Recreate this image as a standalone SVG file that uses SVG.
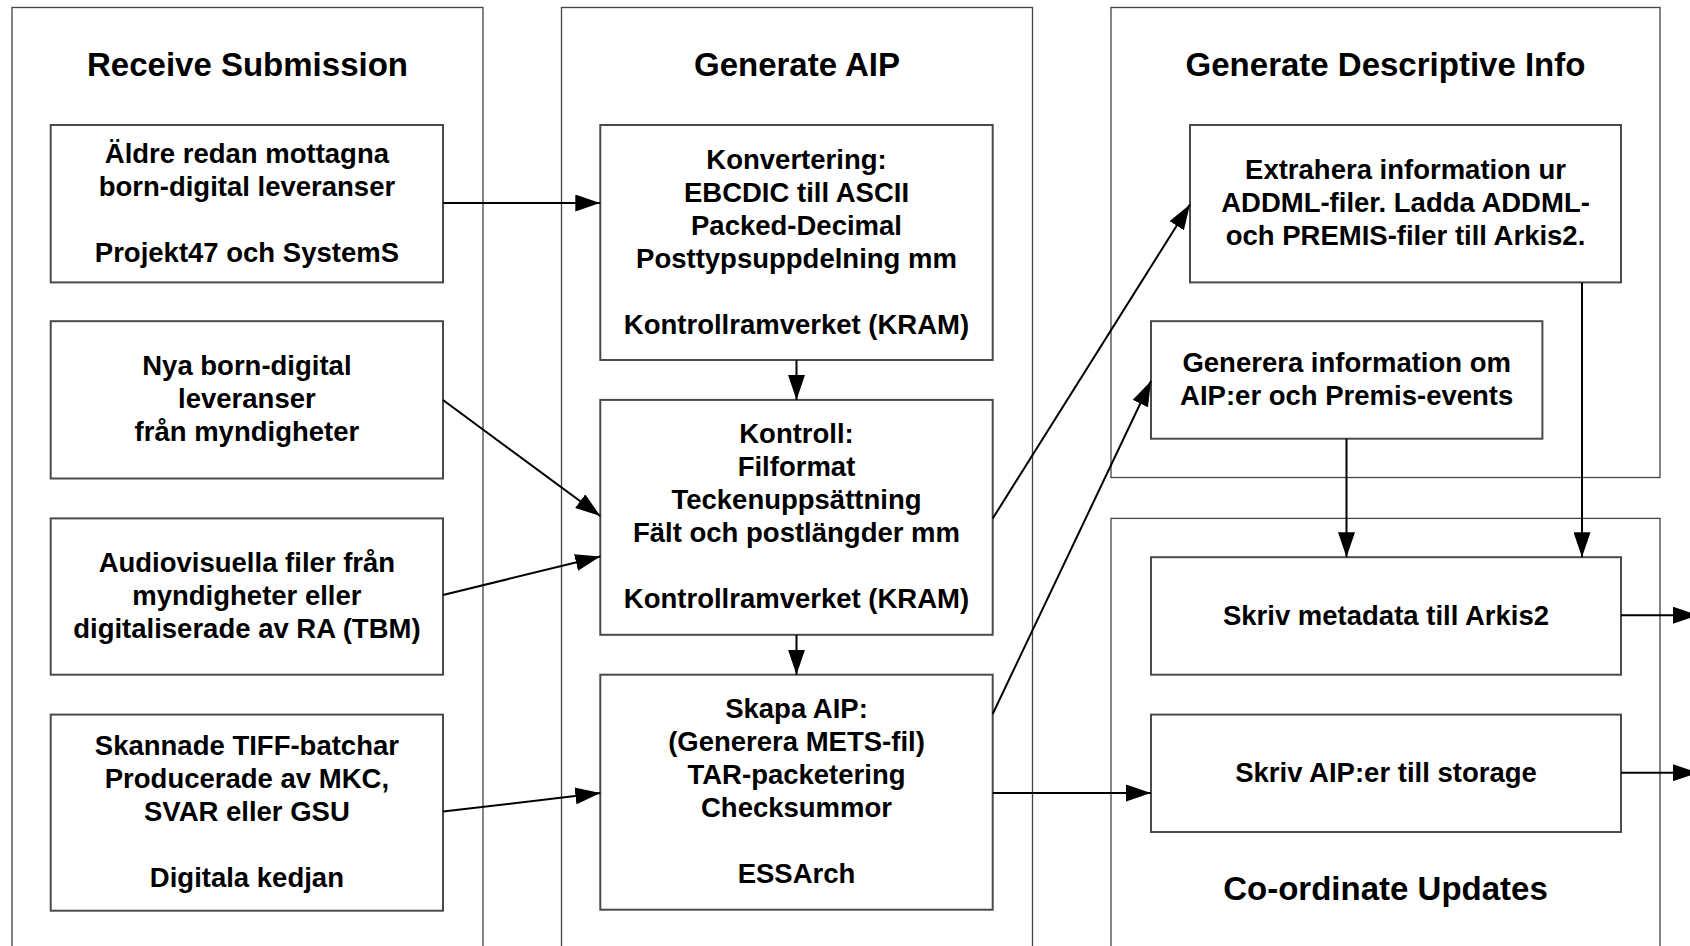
<svg xmlns="http://www.w3.org/2000/svg" width="1690" height="946" viewBox="0 0 1690 946">
<style>
.lane{fill:#fff;stroke:#444;stroke-width:1.3}
.box{fill:#fff;stroke:#4a4a4a;stroke-width:2}
.ttl{font-family:"Liberation Sans",Arial,sans-serif;font-weight:bold;font-size:33px;fill:#000;text-anchor:middle}
.t{font-family:"Liberation Sans",Arial,sans-serif;font-weight:bold;font-size:27.5px;fill:#000;text-anchor:middle}
.c{fill:none;stroke:#000;stroke-width:2}
</style>
<defs>
<marker id="ah" markerUnits="userSpaceOnUse" markerWidth="25" markerHeight="17" refX="25" refY="8.5" orient="auto">
<path d="M0,0 L25,8.5 L0,17 z" fill="#000"/>
</marker>
</defs>
<rect width="1690" height="946" fill="#fff"/>
<g id="lane-receive">
<rect class="lane" x="12" y="7.5" width="471" height="960"/>
<text class="ttl" x="247.5" y="76">Receive Submission</text>
</g>
<g id="lane-generate-aip">
<rect class="lane" x="561.5" y="7.5" width="471" height="960"/>
<text class="ttl" x="797" y="76">Generate AIP</text>
</g>
<g id="lane-descriptive">
<rect class="lane" x="1111" y="7.5" width="549" height="470"/>
<text class="ttl" x="1385.5" y="76">Generate Descriptive Info</text>
</g>
<g id="lane-coordinate">
<rect class="lane" x="1111" y="518.4" width="549" height="450"/>
<text class="ttl" x="1385.5" y="900">Co-ordinate Updates</text>
</g>
<g id="n-aldre">
<rect class="box" x="50.7" y="125" width="392.3" height="157.4"/>
<text class="t" x="246.9" y="162.7">Äldre redan mottagna</text>
<text class="t" x="246.9" y="195.7">born-digital leveranser</text>
<text class="t" x="246.9" y="261.7">Projekt47 och SystemS</text>
</g>
<g id="n-nya">
<rect class="box" x="50.7" y="321.2" width="392.3" height="157.3"/>
<text class="t" x="246.9" y="375.4">Nya born-digital</text>
<text class="t" x="246.9" y="408.4">leveranser</text>
<text class="t" x="246.9" y="441.4">från myndigheter</text>
</g>
<g id="n-audio">
<rect class="box" x="50.7" y="518.4" width="392.3" height="156.3"/>
<text class="t" x="246.9" y="572">Audiovisuella filer från</text>
<text class="t" x="246.9" y="605">myndigheter eller</text>
<text class="t" x="246.9" y="638">digitaliserade av RA (TBM)</text>
</g>
<g id="n-skannade">
<rect class="box" x="50.7" y="714.6" width="392.3" height="196.1"/>
<text class="t" x="246.9" y="755">Skannade TIFF-batchar</text>
<text class="t" x="246.9" y="788">Producerade av MKC,</text>
<text class="t" x="246.9" y="821">SVAR eller GSU</text>
<text class="t" x="246.9" y="887">Digitala kedjan</text>
</g>
<g id="n-konvertering">
<rect class="box" x="600.3" y="125" width="392.4" height="235"/>
<text class="t" x="796.5" y="168.5">Konvertering:</text>
<text class="t" x="796.5" y="201.5">EBCDIC till ASCII</text>
<text class="t" x="796.5" y="234.5">Packed-Decimal</text>
<text class="t" x="796.5" y="267.5">Posttypsuppdelning mm</text>
<text class="t" x="796.5" y="333.5">Kontrollramverket (KRAM)</text>
</g>
<g id="n-kontroll">
<rect class="box" x="600.3" y="399.9" width="392.4" height="234.9"/>
<text class="t" x="796.5" y="443.3">Kontroll:</text>
<text class="t" x="796.5" y="476.3">Filformat</text>
<text class="t" x="796.5" y="509.3">Teckenuppsättning</text>
<text class="t" x="796.5" y="542.3">Fält och postlängder mm</text>
<text class="t" x="796.5" y="608.3">Kontrollramverket (KRAM)</text>
</g>
<g id="n-skapa">
<rect class="box" x="600.3" y="674.7" width="392.4" height="235"/>
<text class="t" x="796.5" y="718.2">Skapa AIP:</text>
<text class="t" x="796.5" y="751.2">(Generera METS-fil)</text>
<text class="t" x="796.5" y="784.2">TAR-packetering</text>
<text class="t" x="796.5" y="817.2">Checksummor</text>
<text class="t" x="796.5" y="883.2">ESSArch</text>
</g>
<g id="n-extrahera">
<rect class="box" x="1190" y="125" width="431" height="157.4"/>
<text class="t" x="1405.5" y="179.2">Extrahera information ur</text>
<text class="t" x="1405.5" y="212.2">ADDML-filer. Ladda ADDML-</text>
<text class="t" x="1405.5" y="245.2">och PREMIS-filer till Arkis2.</text>
</g>
<g id="n-generera">
<rect class="box" x="1151" y="321.2" width="391.4" height="117.5"/>
<text class="t" x="1346.7" y="372">Generera information om</text>
<text class="t" x="1346.7" y="405">AIP:er och Premis-events</text>
</g>
<g id="n-skriv-metadata">
<rect class="box" x="1151" y="557.2" width="470" height="117.5"/>
<text class="t" x="1386" y="624.5">Skriv metadata till Arkis2</text>
</g>
<g id="n-skriv-aip">
<rect class="box" x="1151" y="714.6" width="470" height="117.4"/>
<text class="t" x="1386" y="781.8">Skriv AIP:er till storage</text>
</g>
<g id="connectors">
<path class="c" marker-end="url(#ah)" d="M443,203 L600.3,203"/>
<path class="c" marker-end="url(#ah)" d="M443,400 L600.3,516"/>
<path class="c" marker-end="url(#ah)" d="M443,595 L600.3,556.5"/>
<path class="c" marker-end="url(#ah)" d="M443,811.6 L600.3,793"/>
<path class="c" marker-end="url(#ah)" d="M796.5,360 L796.5,399.9"/>
<path class="c" marker-end="url(#ah)" d="M796.5,634.8 L796.5,674.7"/>
<path class="c" marker-end="url(#ah)" d="M992.7,518.5 L1190,204.5"/>
<path class="c" marker-end="url(#ah)" d="M992.7,714 L1151,381"/>
<path class="c" marker-end="url(#ah)" d="M992.7,793 L1151,793"/>
<path class="c" marker-end="url(#ah)" d="M1582,282.4 L1582,557.2"/>
<path class="c" marker-end="url(#ah)" d="M1346.5,438.7 L1346.5,557.2"/>
<path class="c" marker-end="url(#ah)" d="M1621,615.2 L1698,615.2"/>
<path class="c" marker-end="url(#ah)" d="M1621,772.7 L1698,772.7"/>
</g>
</svg>
